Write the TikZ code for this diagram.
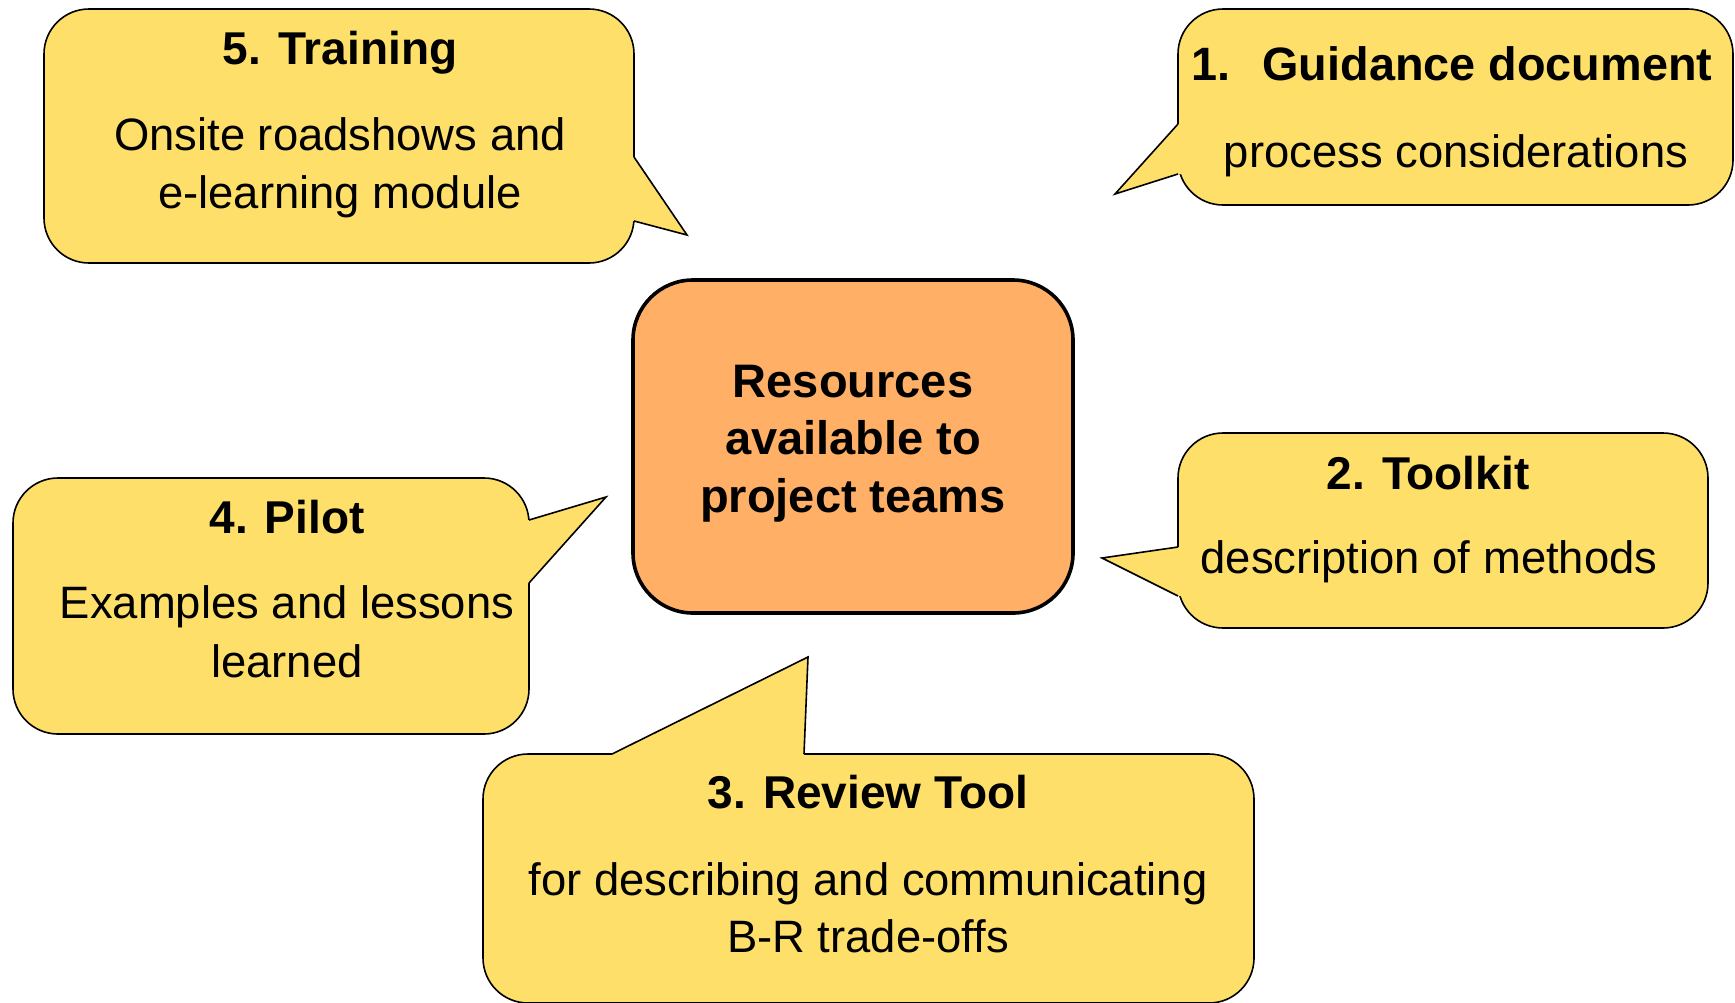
\documentclass[tikz,border=0pt]{standalone}
\usepackage{fontspec}
\setmainfont{Liberation Sans}
\definecolor{calloutfill}{RGB}{253,223,106}
\definecolor{hubfill}{RGB}{255,176,102}
\begin{document}
\begin{tikzpicture}[x=0.5pt,y=-0.5pt,
  callout/.style={draw=black, line width=0.8pt, fill=calloutfill, rounded corners=22.5pt,
    inner sep=0pt, outer sep=0pt},
  hub/.style={draw=black, line width=1.8pt, fill=hubfill, rounded corners=30pt,
    inner sep=0pt, outer sep=0pt, minimum width=220pt, minimum height=166.5pt},
  heading/.style={font=\fontsize{23}{27}\selectfont\bfseries, anchor=base, inner sep=0pt},
  body/.style={font=\fontsize{22.7}{27}\selectfont, anchor=base, inner sep=0pt},
  hubtext/.style={font=\fontsize{23.5}{28}\selectfont\bfseries, anchor=base, inner sep=0pt},
  tailfill/.style={fill=calloutfill},
  tailline/.style={draw=black, line width=0.8pt, line join=miter}
]
\useasboundingbox (0,0) rectangle (1735,1002);

% central box
\node[hub] (hub) at (853,446.5) {};

% callout bodies
\node[callout, minimum width=295pt, minimum height=127pt] (training) at (339,136) {};
\node[callout, minimum width=277.5pt, minimum height=98pt] (guidance) at (1455.5,107) {};
\node[callout, minimum width=265pt, minimum height=97.5pt] (toolkit) at (1443,530.5) {};
\node[callout, minimum width=258pt, minimum height=128pt] (pilot) at (271,606) {};
\node[callout, minimum width=385.5pt, minimum height=124.5pt] (review) at (868.5,878.5) {};

% callout tails: base points on the box edge and the tip
\coordinate (t5a) at (634,157);  \coordinate (t5tip) at (687,235);  \coordinate (t5b) at (634,221);
\coordinate (t5ai) at (629,157); \coordinate (t5bi) at (629,221);
\coordinate (t1a) at (1178,124); \coordinate (t1tip) at (1115,194); \coordinate (t1b) at (1178,174);
\coordinate (t1ai) at (1183,124); \coordinate (t1bi) at (1183,174);
\coordinate (t2a) at (1178,547); \coordinate (t2tip) at (1102,558); \coordinate (t2b) at (1178,596);
\coordinate (t2ai) at (1183,547); \coordinate (t2bi) at (1183,596);
\coordinate (t4a) at (529,520);  \coordinate (t4tip) at (606,497);  \coordinate (t4b) at (529,583);
\coordinate (t4ai) at (524,520); \coordinate (t4bi) at (524,583);
\coordinate (t3a) at (612,754);  \coordinate (t3tip) at (808,657);  \coordinate (t3b) at (804,754);
\coordinate (t3ai) at (612,759); \coordinate (t3bi) at (804,759);

\fill[tailfill] (t5ai) -- (t5a) -- (t5tip) -- (t5b) -- (t5bi) -- cycle;
\fill[tailfill] (t1ai) -- (t1a) -- (t1tip) -- (t1b) -- (t1bi) -- cycle;
\fill[tailfill] (t2ai) -- (t2a) -- (t2tip) -- (t2b) -- (t2bi) -- cycle;
\fill[tailfill] (t4ai) -- (t4a) -- (t4tip) -- (t4b) -- (t4bi) -- cycle;
\fill[tailfill] (t3ai) -- (t3a) -- (t3tip) -- (t3b) -- (t3bi) -- cycle;

\draw[tailline] (t5a) -- (t5tip) -- (t5b);
\draw[tailline] (t1a) -- (t1tip) -- (t1b);
\draw[tailline] (t2a) -- (t2tip) -- (t2b);
\draw[tailline] (t4a) -- (t4tip) -- (t4b);
\draw[tailline] (t3a) -- (t3tip) -- (t3b);

% central text
\node[hubtext] (hub1) at (853,397) {Resources};
\node[hubtext] (hub2) at (853,454) {available to};
\node[hubtext] (hub3) at (853,512) {project teams};

% 5. Training
\node[heading] (h5) at (340,64) {5. Training};
\node[body] (b5a) at (340,150) {Onsite roadshows and};
\node[body] (b5b) at (340,208) {e-learning module};

% 1. Guidance document
\node[heading, font=\fontsize{23.4}{27}\selectfont\bfseries, anchor=base west] (h1) at (1191,80)
  {1.\hspace{16pt}Guidance document};
\node[body] (b1) at (1456,167) {process considerations};

% 2. Toolkit
\node[heading] (h2) at (1428,489) {2. Toolkit};
\node[body] (b2) at (1429,573) {description of methods};

% 4. Pilot
\node[heading] (h4) at (287,533) {4. Pilot};
\node[body] (b4a) at (287,618) {Examples and lessons};
\node[body] (b4b) at (287,677) {learned};

% 3. Review Tool
\node[heading] (h3) at (868,808) {3. Review Tool};
\node[body] (b3a) at (868,895) {for describing and communicating};
\node[body] (b3b) at (868,952) {B-R trade-offs};
\end{tikzpicture}
\end{document}
